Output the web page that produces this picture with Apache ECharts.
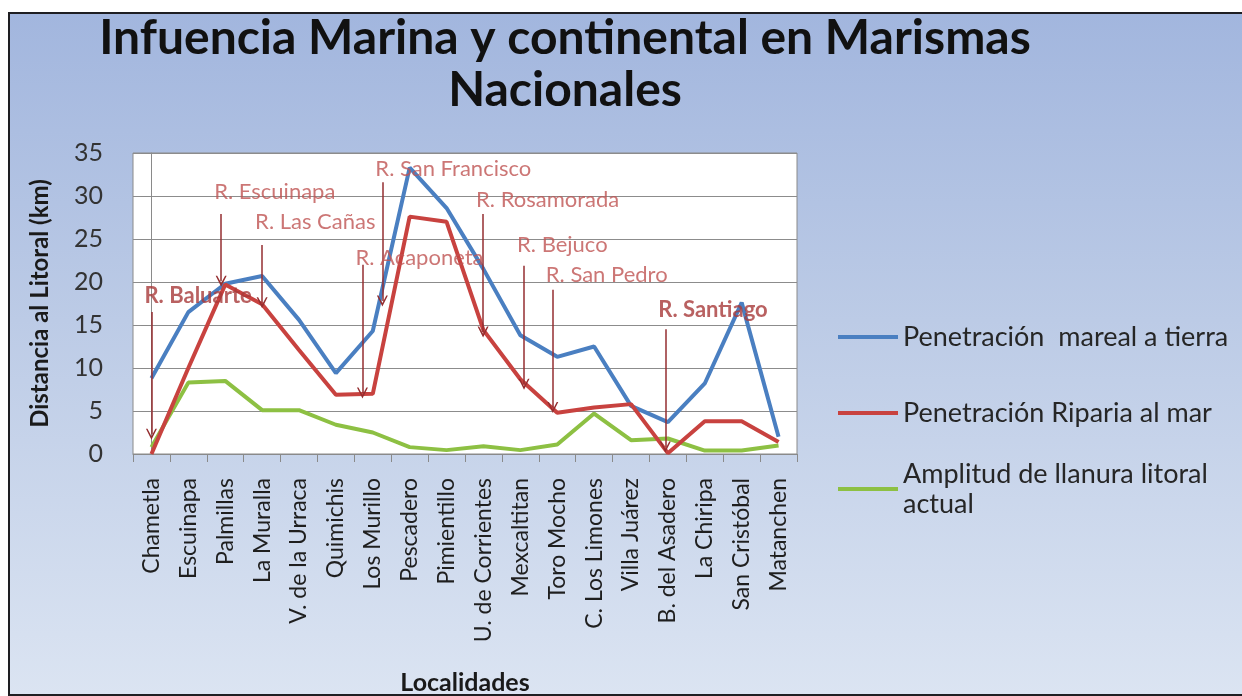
<!DOCTYPE html>
<html>
<head>
<meta charset="utf-8">
<title>Infuencia Marina y continental en Marismas Nacionales</title>
<script src="https://cdn.jsdelivr.net/npm/echarts@6/dist/echarts.min.js"></script>
<style>
  html, body { margin: 0; padding: 0; background: #fff; }
  #wrap { position: relative; width: 1242px; height: 696px; overflow: hidden; }
  #frame {
    position: absolute; left: 8px; top: 12px; width: 1240px; height: 680px;
    border: 2px solid #1e1e22;
    background: linear-gradient(to bottom, #a2b6de 0%, #bccbe6 45%, #dbe4f2 100%);
  }
  #main { position: absolute; left: 0; top: 0; width: 1242px; height: 696px; }
</style>
</head>
<body>
<div id="wrap">
  <div id="frame"></div>
  <div id="main"></div>
</div>
<script>
// localidades (eje X)
var localidades = ['Chametla', 'Escuinapa', 'Palmillas', 'La Muralla', 'V. de la Urraca', 'Quimichis',
  'Los Murillo', 'Pescadero', 'Pimientillo', 'U. de Corrientes', 'Mexcaltitan', 'Toro Mocho',
  'C. Los Limones', 'Villa Juárez', 'B. del Asadero', 'La Chiripa', 'San Cristóbal', 'Matanchen'];

var nombres = ['Penetración  mareal a tierra', 'Penetración Riparia al mar', 'Amplitud de llanura litoral actual'];

// km
var mareal = [8.8, 16.5, 19.8, 20.7, 15.6, 9.4, 14.3, 33.3, 28.6, 21.5, 13.8, 11.3, 12.5, 5.6, 3.7, 8.2, 17.6, 2.0];
var riparia = [0.0, 10.0, 19.7, 17.4, 12.1, 6.9, 7.0, 27.6, 27.0, 14.4, 8.7, 4.8, 5.4, 5.8, 0.1, 3.8, 3.8, 1.4];
var amplitud = [0.8, 8.3, 8.5, 5.1, 5.1, 3.4, 2.5, 0.8, 0.45, 0.9, 0.45, 1.1, 4.7, 1.6, 1.8, 0.4, 0.4, 1.0];

var yTicks = [0, 5, 10, 15, 20, 25, 30, 35];

// rios: posicion en indices de localidad, y de cola / punta de la flecha, y del texto
var rios = ['R. Baluarte', 'R. Escuinapa', 'R. Las Cañas', 'R. Acaponeta', 'R. San Francisco',
  'R. Rosamorada', 'R. Bejuco', 'R. San Pedro', 'R. Santiago'];
var rioX = [0, 1.89, 3.0, 5.72, 6.26, 8.99, 10.1, 10.88, 13.93];
var rioCola = [16.5, 27.9, 24.3, 22.0, 31.6, 27.9, 21.9, 19.1, 14.5];
var rioPunta = [2.3, 20.1, 17.6, 7.1, 17.8, 14.2, 8.1, 5.4, 0.8];
var rioTexto = [18.4, 30.5, 27.0, 22.8, 33.2, 29.6, 24.3, 20.8, 16.7];
var rioNegrita = [true, false, false, false, false, false, false, false, true];

var chartDom = document.getElementById('main');
var myChart = echarts.init(chartDom);
var option;

var fuente = 'Lato, "Open Sans", sans-serif';
var colores = ['#4a7fc1', '#c8423f', '#8dc043'];
var flecha = 'path://M0,10L5,0L10,10L8.6,10L5,3.2L1.4,10Z';

var flechas = rios.map(function (r, i) {
  return { name: r, coords: [[rioX[i], rioCola[i]], [rioX[i], rioPunta[i]]] };
});
var textos = rios.map(function (r, i) {
  return {
    name: r,
    value: [rioX[i], rioTexto[i]],
    label: rioNegrita[i] ? { fontWeight: 'bold', color: '#a8393a' } : {}
  };
});

function leyenda(i, top, extra) {
  return {
    data: [Object.assign({ name: nombres[i] }, extra || {})],
    orient: 'vertical',
    left: 833,
    top: top,
    icon: 'rect',
    itemWidth: 60,
    itemHeight: 4,
    selectedMode: false,
    textStyle: { fontFamily: fuente, fontSize: 27, color: '#262626', lineHeight: 30 },
    formatter: function (n) {
      return n === nombres[2] ? 'Amplitud de llanura litoral\nactual' : n;
    }
  };
}

option = {
  backgroundColor: 'transparent',
  animation: false,
  title: {
    text: 'Infuencia Marina y continental en Marismas\nNacionales',
    left: 560,
    top: 8,
    textAlign: 'center',
    textStyle: { fontFamily: fuente, fontSize: 48, fontWeight: 'bold', color: '#111', lineHeight: 52 }
  },
  legend: [
    leyenda(0, 317),
    leyenda(1, 393),
    leyenda(2, 439, { textStyle: { padding: [30, 0, 0, 0] } })
  ],
  grid: {
    left: 133, right: 445, top: 153, bottom: 237,
    show: true, backgroundColor: '#ffffff', borderColor: '#8a8a8a', borderWidth: 1
  },
  xAxis: [
    {
      type: 'category',
      data: localidades,
      boundaryGap: true,
      name: 'Localidades',
      nameLocation: 'middle',
      nameGap: 216,
      nameTextStyle: { fontFamily: fuente, fontSize: 25, fontWeight: 'bold', color: '#1a1a1a' },
      axisLine: { lineStyle: { color: '#8a8a8a' } },
      axisTick: { show: true, length: 8, lineStyle: { color: '#8a8a8a' } },
      axisLabel: { rotate: 90, margin: 24, fontFamily: fuente, fontSize: 23, color: '#1f1f1f', interval: 0 }
    },
    { type: 'value', min: -0.5, max: 17.5, show: false }
  ],
  yAxis: {
    type: 'value',
    min: 0,
    max: 35,
    interval: 5,
    name: 'Distancia al Litoral (km)',
    nameLocation: 'middle',
    nameGap: 81,
    nameRotate: 90,
    nameTextStyle: { fontFamily: fuente, fontSize: 24, fontWeight: 'bold', color: '#1a1a1a' },
    axisLine: { show: true, lineStyle: { color: '#8a8a8a' } },
    axisTick: { show: true, length: 10, lineStyle: { color: '#8a8a8a' } },
    axisLabel: {
      margin: 30, fontFamily: fuente, fontSize: 25, color: '#333',
      formatter: function (v) { return yTicks.indexOf(v) >= 0 ? String(v) : ''; }
    },
    splitLine: { show: true, lineStyle: { color: '#8c8c8c', width: 1 } }
  },
  series: [
    {
      name: nombres[0], type: 'line', data: mareal, symbol: 'none',
      lineStyle: { width: 4, color: colores[0] }, itemStyle: { color: colores[0] }, z: 3
    },
    {
      name: nombres[1], type: 'line', data: riparia, symbol: 'none',
      lineStyle: { width: 4, color: colores[1] }, itemStyle: { color: colores[1] }, z: 3
    },
    {
      name: nombres[2], type: 'line', data: amplitud, symbol: 'none',
      lineStyle: { width: 4, color: colores[2] }, itemStyle: { color: colores[2] }, z: 2
    },
    {
      name: 'flechas', type: 'lines', coordinateSystem: 'cartesian2d',
      xAxisIndex: 1, yAxisIndex: 0,
      data: flechas,
      symbol: ['none', flecha],
      symbolSize: [0, 11],
      lineStyle: { color: '#952e30', width: 1.5, opacity: 1, curveness: 0 },
      z: 5, silent: true
    },
    {
      name: 'rios', type: 'scatter',
      xAxisIndex: 1, yAxisIndex: 0,
      data: textos,
      symbolSize: 0,
      label: {
        show: true, position: [-7, 0], align: 'left', verticalAlign: 'middle',
        formatter: '{b}', fontFamily: fuente, fontSize: 22, color: '#bf5452'
      },
      z: 6, silent: true
    }
  ]
};

option && myChart.setOption(option);
</script>
</body>
</html>
